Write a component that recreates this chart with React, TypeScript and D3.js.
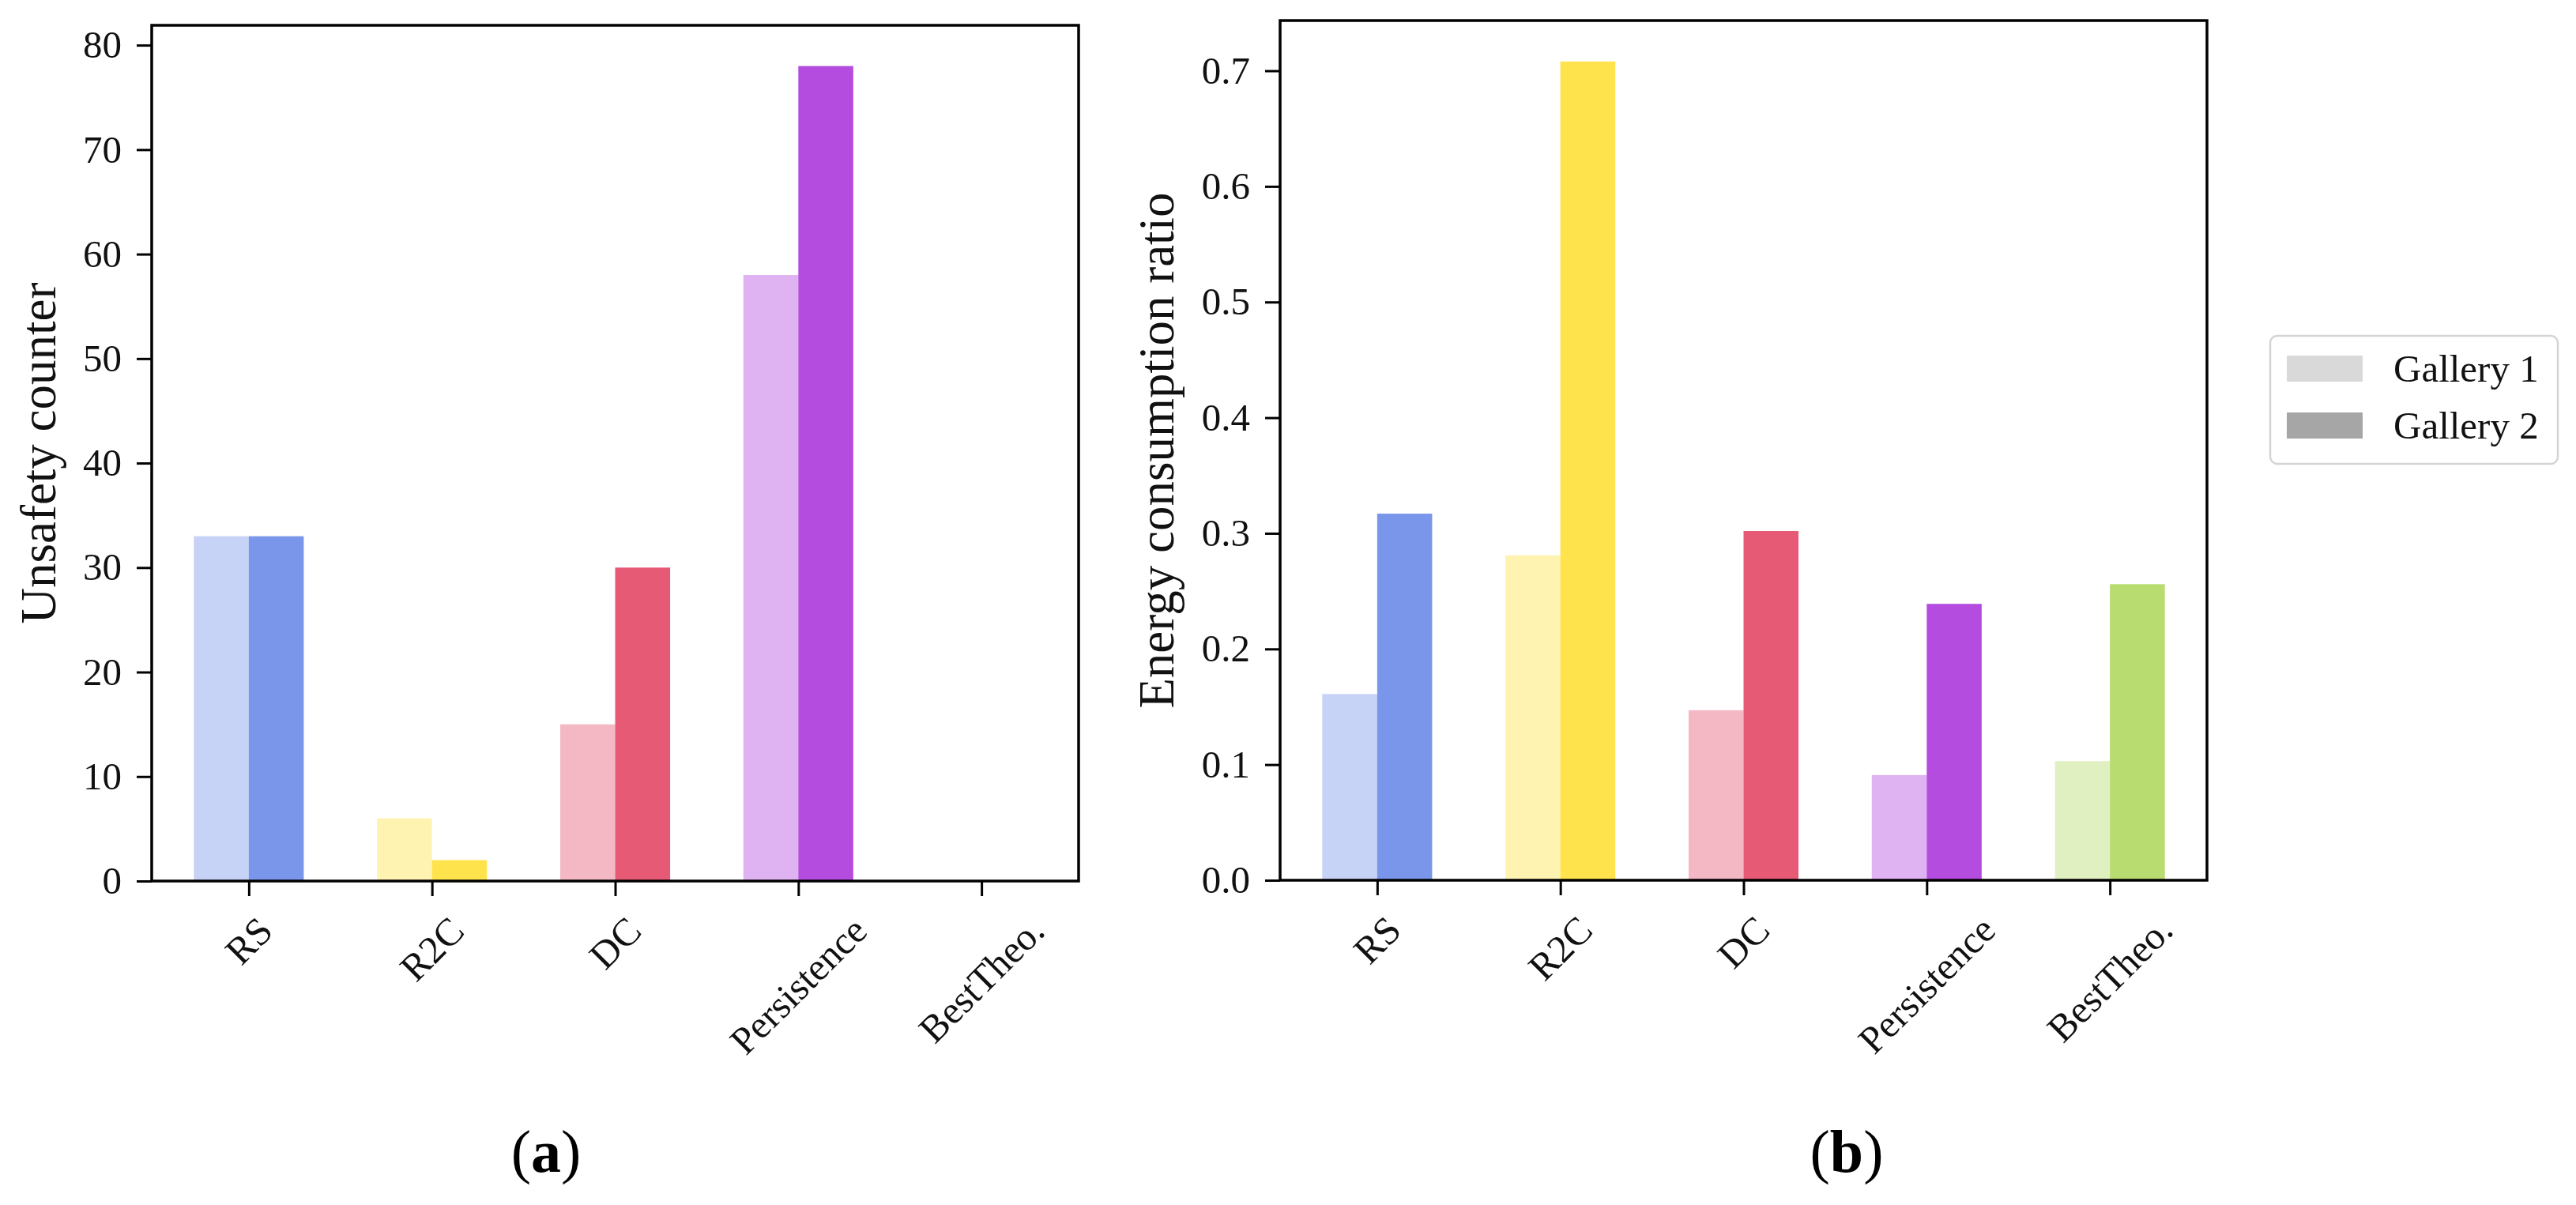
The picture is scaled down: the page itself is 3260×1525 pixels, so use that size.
import * as d3 from "d3";
import { useEffect, useRef } from "react";

const categories = ["RS", "R2C", "DC", "Persistence", "BestTheo."];
const categoryColors = ["royalblue", "gold", "crimson", "darkviolet", "yellowgreen"];

const seriesNames = ["Gallery 1", "Gallery 2"];
const seriesAlpha = [0.3, 0.7];

const unsafetyGallery1 = [33, 6, 15, 58, 0];
const unsafetyGallery2 = [33, 2, 30, 78, 0];
const unsafetyTicks = [0, 10, 20, 30, 40, 50, 60, 70, 80];

const energyGallery1 = [0.161, 0.281, 0.147, 0.091, 0.103];
const energyGallery2 = [0.317, 0.708, 0.302, 0.239, 0.256];
const energyTicks = [0, 0.1, 0.2, 0.3, 0.4, 0.5, 0.6, 0.7];

const FONT = "'Liberation Serif', 'Times New Roman', serif";
const TICK_FONT = 49;
const LABEL_FONT = 63;
const BAR_WIDTH = 0.3;

type Panel = {
    left: number;
    right: number;
    top: number;
    bottom: number;
    g1: number[];
    g2: number[];
    ticks: number[];
    format: (d: number) => string;
    label: string;
    labelX: number;
    caption: string;
    captionX: number;
};

function drawPanel(svg: d3.Selection<SVGSVGElement, unknown, null, undefined>, p: Panel) {
    const g = svg.append("g");

    const x = d3.scaleLinear().domain([-0.53, 4.53]).range([p.left, p.right]);
    const yMax = Math.max(d3.max(p.g1) || 0, d3.max(p.g2) || 0) * 1.05;
    const y = d3.scaleLinear().domain([0, yMax]).range([p.bottom, p.top]);

    // bars: gallery 1 left of the tick, gallery 2 right of it
    [p.g1, p.g2].forEach((values, s) => {
        g.append("g")
            .selectAll("rect")
            .data(values)
            .join("rect")
            .attr("x", (_, i) => (s === 0 ? x(i - BAR_WIDTH) : x(i)))
            .attr("width", x(BAR_WIDTH) - x(0))
            .attr("y", (d) => y(d))
            .attr("height", (d) => y(0) - y(d))
            .attr("fill", (_, i) => categoryColors[i])
            .attr("fill-opacity", seriesAlpha[s]);
    });

    // y axis
    const yAxis = g
        .append("g")
        .attr("transform", `translate(${p.left},0)`)
        .call(d3.axisLeft(y).tickValues(p.ticks).tickFormat((d) => p.format(d as number)).tickSize(19).tickPadding(19));
    yAxis.select(".domain").remove();
    yAxis.selectAll("line").attr("stroke", "#000").attr("stroke-width", 3);
    yAxis
        .selectAll("text")
        .style("font-family", FONT)
        .style("font-size", `${TICK_FONT}px`)
        .attr("fill", "#111");

    // x axis
    const xAxis = g
        .append("g")
        .attr("transform", `translate(0,${p.bottom})`)
        .call(d3.axisBottom(x).tickValues(d3.range(categories.length)).tickSize(19).tickFormat(() => ""));
    xAxis.select(".domain").remove();
    xAxis.selectAll("line").attr("stroke", "#000").attr("stroke-width", 3);

    // rotated category labels, centred under each tick
    categories.forEach((name, i) => {
        const t = g
            .append("text")
            .text(name)
            .style("font-family", FONT)
            .style("font-size", `${TICK_FONT}px`)
            .attr("fill", "#111")
            .attr("text-anchor", "middle")
            .attr("dominant-baseline", "central");
        const w = (t.node() as SVGTextElement).getComputedTextLength();
        const cy = p.bottom + 37 + (w + TICK_FONT) * 0.3536;
        t.attr("transform", `translate(${x(i)},${cy}) rotate(-45)`);
    });

    // frame
    g.append("rect")
        .attr("x", p.left)
        .attr("y", p.top)
        .attr("width", p.right - p.left)
        .attr("height", p.bottom - p.top)
        .attr("fill", "none")
        .attr("stroke", "#000")
        .attr("stroke-width", 3.5);

    // y label
    g.append("text")
        .attr("transform", `translate(${p.labelX},${(p.top + p.bottom) / 2}) rotate(-90)`)
        .attr("text-anchor", "middle")
        .style("font-family", FONT)
        .style("font-size", `${LABEL_FONT}px`)
        .attr("fill", "#111")
        .text(p.label);

    // caption
    const cap = g
        .append("text")
        .attr("x", p.captionX)
        .attr("y", 1483)
        .attr("text-anchor", "middle")
        .style("font-family", FONT)
        .style("font-size", "76px")
        .attr("fill", "#000");
    cap.append("tspan").text("(");
    cap.append("tspan").attr("font-weight", "bold").text(p.caption);
    cap.append("tspan").text(")");
}

function drawLegend(svg: d3.Selection<SVGSVGElement, unknown, null, undefined>) {
    const g = svg.append("g");
    g.append("rect")
        .attr("x", 2873)
        .attr("y", 425)
        .attr("width", 364)
        .attr("height", 162)
        .attr("rx", 9)
        .attr("fill", "#fff")
        .attr("stroke", "#d4d4d4")
        .attr("stroke-width", 2.5);

    seriesNames.forEach((name, s) => {
        const rowY = 450 + s * 72;
        g.append("rect")
            .attr("x", 2894)
            .attr("y", rowY)
            .attr("width", 96)
            .attr("height", 33)
            .attr("fill", "gray")
            .attr("fill-opacity", seriesAlpha[s]);
        g.append("text")
            .attr("x", 3029)
            .attr("y", rowY + 33)
            .style("font-family", FONT)
            .style("font-size", `${TICK_FONT}px`)
            .attr("fill", "#111")
            .text(name);
    });
}

function drawFigure(svgElement: SVGSVGElement) {
    const svg = d3.select(svgElement);
    svg.selectAll("*").remove();

    drawPanel(svg, {
        left: 192,
        right: 1365,
        top: 32,
        bottom: 1115,
        g1: unsafetyGallery1,
        g2: unsafetyGallery2,
        ticks: unsafetyTicks,
        format: (d) => d3.format("d")(d),
        label: "Unsafety counter",
        labelX: 70,
        caption: "a",
        captionX: 691,
    });

    drawPanel(svg, {
        left: 1620,
        right: 2793,
        top: 26,
        bottom: 1114,
        g1: energyGallery1,
        g2: energyGallery2,
        ticks: energyTicks,
        format: (d) => d3.format(".1f")(d),
        label: "Energy consumption ratio",
        labelX: 1485,
        caption: "b",
        captionX: 2337,
    });

    drawLegend(svg);
}

export default function App() {
    const ref = useRef<SVGSVGElement | null>(null);

    useEffect(() => {
        if (ref.current) drawFigure(ref.current);
    }, []);

    return (
        <div style={{ position: "absolute", left: 0, top: 0, background: "#fff" }}>
            <svg ref={ref} width={3260} height={1525} style={{ display: "block" }}></svg>
        </div>
    );
}
